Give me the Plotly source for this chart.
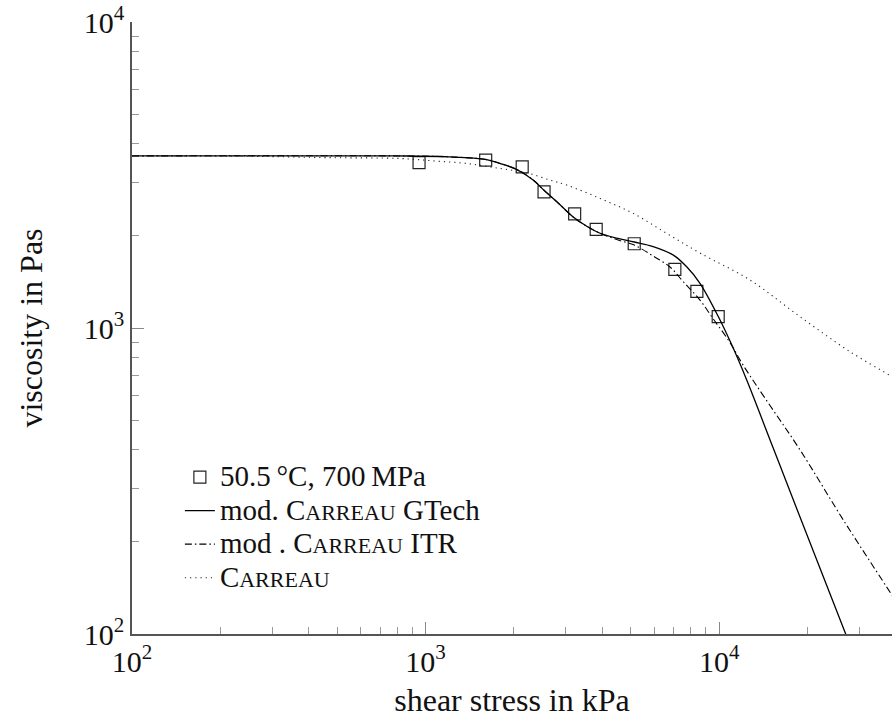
import plotly.graph_objects as go

# Measured viscosity at 50.5 °C, 700 MPa
stress_exp = [950, 1602, 2133, 2532, 3219, 3811, 5136, 7063, 8394, 9923]
eta_exp = [3470, 3536, 3362, 2786, 2362, 2100, 1885, 1554, 1318, 1089]

# modified Carreau model (GTech)
stress_gtech = [100, 800, 1200, 1600, 1790, 2040, 2330, 2530, 2800, 3190, 3540, 3930,
                4480, 5140, 5960, 6980, 7750, 8600, 9930, 11170, 12410, 15100, 18250,
                26970, 30000]
eta_gtech = [3650, 3650, 3625, 3555, 3450, 3300, 3040, 2820, 2585, 2300, 2150, 2040,
             1965, 1910, 1845, 1730, 1585, 1400, 1090, 858, 676, 417, 261,
             100, 77]

# modified Carreau model (ITR)
stress_itr = [100, 800, 1200, 1600, 1790, 2040, 2330, 2530, 2800, 3190, 3540, 3930,
              4480, 5140, 5960, 6800, 7550, 8600, 9550, 10880, 12080, 14320, 18840,
              26460, 38380, 40000]
eta_itr = [3650, 3650, 3625, 3555, 3450, 3300, 3040, 2820, 2585, 2300, 2150, 2040,
           1945, 1866, 1718, 1582, 1416, 1234, 1070, 897, 755, 590, 400,
           236, 136, 128]

# classic Carreau model
stress_carreau = [100, 252, 472, 818, 1062, 1380, 1792, 2210, 2653, 3024, 3927, 5098,
                  6625, 8602, 12730, 18840, 27890, 37960, 40000]
eta_carreau = [3650, 3640, 3603, 3581, 3517, 3449, 3322, 3214, 3043, 2931, 2651, 2369,
               2038, 1758, 1435, 1089, 837, 702, 682]

# axis ticks
major_x = [100, 1000, 10000]
major_x_text = ["10<sup>2</sup>", "10<sup>3</sup>", "10<sup>4</sup>"]
minor_x = [200, 300, 400, 500, 600, 700, 800, 900,
           2000, 3000, 4000, 5000, 6000, 7000, 8000, 9000, 20000, 30000]
major_y = [100, 1000, 10000]
major_y_text = ["10<sup>2</sup>", "10<sup>3</sup>", "10<sup>4</sup>"]
minor_y = [200, 300, 400, 500, 600, 700, 800, 900,
           2000, 3000, 4000, 5000, 6000, 7000, 8000, 9000]

FONT = "Liberation Serif"


def legend_label(text):
    # legend entries are set a little larger than the row pitch font
    return "<span style='font-size:29px'>" + text + "</span>"


SC = "<span style='font-size:22px'>ARREAU</span>"

fig = go.Figure()
fig.add_trace(go.Scatter(
    x=stress_exp, y=eta_exp, mode="markers",
    name=legend_label("50.5\u2009°C, 700\u2009MPa"),
    marker=dict(symbol="square-open", size=12, color="#222",
                line=dict(width=1.2, color="#222")),
))
fig.add_trace(go.Scatter(
    x=stress_gtech, y=eta_gtech, mode="lines", line_shape="spline",
    name=legend_label("mod. C" + SC + " GTech"),
    line=dict(color="black", width=1.3),
))
fig.add_trace(go.Scatter(
    x=stress_itr, y=eta_itr, mode="lines", line_shape="spline",
    name=legend_label("mod . C" + SC + " ITR"),
    line=dict(color="black", width=1.1, dash="7px,3px,1.5px,3px"),
))
fig.add_trace(go.Scatter(
    x=stress_carreau, y=eta_carreau, mode="lines", line_shape="spline",
    name=legend_label("C" + SC),
    line=dict(color="#222", width=1.1, dash="1.2px,4px"),
))

axis_common = dict(
    type="log", showline=True, linecolor="#555", linewidth=1.5,
    ticks="inside", ticklen=12, tickcolor="#888", tickwidth=1,
    showgrid=False, zeroline=False,
    tickfont=dict(family=FONT, size=30, color="#111"),
)

fig.update_xaxes(
    **axis_common, range=[2, 4.5886],
    tickmode="array", tickvals=major_x, ticktext=major_x_text,
    minor=dict(tickmode="array", tickvals=minor_x, ticks="inside", ticklen=7,
               tickcolor="#999", tickwidth=1, showgrid=False),
    title=dict(text="shear stress in kPa", font=dict(family=FONT, size=32, color="#111"),
               standoff=13),
)
fig.update_yaxes(
    **axis_common, range=[2, 4],
    tickmode="array", tickvals=major_y, ticktext=major_y_text,
    minor=dict(tickmode="array", tickvals=minor_y, ticks="inside", ticklen=7,
               tickcolor="#999", tickwidth=1, showgrid=False),
    title=dict(text="viscosity in Pas", font=dict(family=FONT, size=32, color="#111"),
               standoff=32),
)

fig.update_layout(
    width=892, height=718,
    margin=dict(l=132, r=0, t=22, b=84),
    paper_bgcolor="white", plot_bgcolor="white",
    font=dict(family=FONT, color="#111"),
    legend=dict(x=0.063, y=0.292, xanchor="left", yanchor="top",
                bgcolor="rgba(0,0,0,0)", font=dict(family=FONT, size=23.5, color="#111")),
)

fig.write_html("out.html")
